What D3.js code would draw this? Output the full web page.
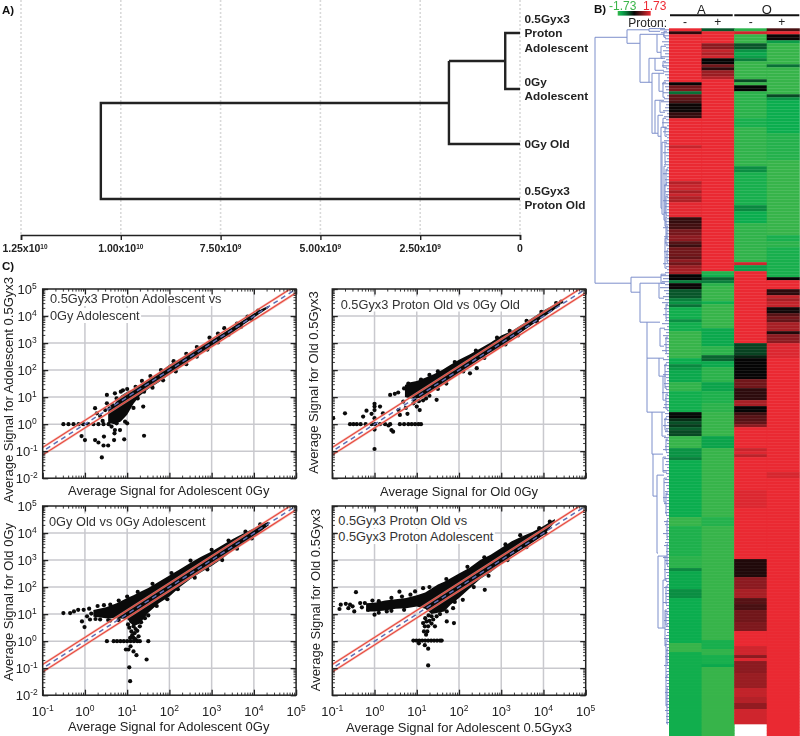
<!DOCTYPE html>
<html><head><meta charset="utf-8">
<script src="https://cdn.jsdelivr.net/npm/d3@7/dist/d3.min.js"></script>
<style>
html,body{margin:0;padding:0;background:#fff}
svg{display:block;filter:blur(.45px)}
text{font-family:"Liberation Sans",Arial,sans-serif}
</style></head><body><svg id="c" width="800" height="736"></svg>
<script>
// ---------- Panel A: sample dendrogram ----------
const treeTicks = [1.25e10, 1e10, 7.5e9, 5e9, 2.5e9, 0];
const treeTickLabels = [["1.25x10","10"],["1.00x10","10"],["7.50x10","9"],["5.00x10","9"],["2.50x10","9"],["0",""]];
const treeLeaves = [
 {lines:["0.5Gyx3","Proton","Adolescent"], row:33},
 {lines:["0Gy","Adolescent"], row:89},
 {lines:["0Gy Old"], row:144},
 {lines:["0.5Gyx3","Proton Old"], row:199}];
const treeHeights = {ab:3.7e8, abc:1.78e9, root:1.05e10};

// ---------- Panel B: heatmap, run-length [rows, value] ----------
const heatSamples = ["A-","A+","O-","O+"];
const heatSigns = ["-","+","-","+"];
const heatA0 = [[1,1.7],[1,.3],[16,1.7],[1,0],[1,.8],[1,.9],[1,-.8],[2,.7],[1,.5],[3,.05],[2,.35],[9,1.7],[1,1.45],[11,1.7],[1,1.3],[1,1.45],[1,1.5],[1,1.2],[1,1.45],[2,1.25],[5,1.65],[2,.35],[2,.45],[2,.85],[2,1],[1,.6],[1,.4],[3,.8],[1,.7],[1,1],[1,.8],[1,1.1],[2,1.2],
 [2,0],[1,-.9],[2,.05],[3,-.6],[1,-.9],[1,-1.1],[1,-.8],[4,-1.4],[1,-1.05],[3,-1.4],[9,-1.7],[2,-1.35],[1,-1],[1,-1.15],[4,-1.3],[3,-1.65],[7,-1.4],[1,-.05],[1,0],[1,-.3],[1,-.55],[1,-.4],[1,-.65],[2,-.5],[4,-1.7],[3,-1.1],[1,-.9],[19,-1.35],[3,-1.7],[10,-1.5],[4,-1.6],[1,-1],[6,-1.3],[3,-1.05],[15,-1.35],[3,-1.7],[28,-1.4]];
const heatA1 = [[1,-.6],[4,1.7],[2,1],[1,1.4],[1,1.25],[1,1.5],[2,0],[1,.8],[1,.3],[2,1.1],[1,1.3],[64,1.7],
 [1,-1.55],[1,-1.4],[1,-.7],[1,-.9],[1,-1.6],[5,-1.7],[1,-1.4],[8,-1.7],[6,-1.3],[3,-1.6],[2,-.7],[2,-1.3],[5,-1.6],[3,-1.25],[4,-1.5],[3,-1.6],[8,-1.7],[4,-1.25],[23,-1.7],[3,-1.55],[38,-1.7],[3,-1.45],[2,-1.65],[3,-1.45],[1,-1.3],[29,-1.7]];
const heatO0 = [[1,-1.6],[1,1.5],[3,-1.7],[2,-.6],[1,-1.1],[1,-1.3],[1,-1.2],[1,-.9],[6,-1.7],[1,-.5],[1,-1.7],[2,0],[9,-1.6],[3,-1.45],[13,-1.65],[2,-1.05],[11,-1.45],[2,-1],[4,-1.35],[13,-1.65],
 [1,1.5],[2,-1.2],[24,1.7],[4,-.45],[1,-.2],[5,0],[2,.02],[3,.8],[4,.3],[2,1.2],[2,0],[1,.4],[2,.6],[1,.7],[1,1],[7,1.7],[1,1.45],[1,1.6],[1,1.35],[11,1.7],[6,1.6],[17,1.7],[6,.2],[4,1],[3,1.2],[2,.6],[2,.5],[4,.8],[3,.9],[5,1.7],[3,1.5],[1,1],[1,1.6],[4,1],[5,1.1],[3,1.4],[2,1.3],[2,1.05],[5,1.5]];
const heatO1 = [[1,.5],[1,1.7],[2,.05],[1,-1.2],[7,-1.7],[1,-.8],[9,-1.7],[1,-.5],[1,-1.1],[11,-1.35],[9,-1.55],[25,-1.7],[2,-1.45],[2,-1.6],[10,-1.45],
 [1,0],[3,1.7],[2,.3],[1,1.4],[1,1.2],[2,1.4],[2,.1],[1,.6],[1,.8],[1,.7],[3,1.2],[1,.2],[3,1],[5,1.6],[38,1.7],[2,1.55],[86,1.7]];
const heatValues = [heatA0,heatA1,heatO0,heatO1];
const heatRange = [-1.73,1.73];

// dendrogram clades: [distance, row top, row bottom, top child distance, bottom child distance]
const clades = [
 [74,3,85,42,38],[42,.5,5,20,29],[20,.1,1,4,9],[29,2,18,12,20],[12,2,8,5,8],[8,6,10,3,4],[5,1,3,2,3],
 [20,10,18,14,17],[14,10,14,6,5],[6,11,13,3,2],[17,15,35,10,14],[10,15,21,5,6],[6,18,23,3,4],[14,24,35,9,11],[9,24,28,5,4],[11,29,36,6,8],[6,30,33,3,3],
 [8,33,60,4,7],[4,33,36,2,2],[7,38,62,4,5],[4,38,45,2,3],[5,46,64,3,4],[3,47,52,1,2],[4,52,66,2,3],[3,56,62,1,2],[3,63,72,2,1],[2,66,70,1,1],[4,70,80,2,2],[2,74,78,1,1],
 [38,83,88,8,29],[8,82,85,3,4],[29,85,98,10,22],[10,85,90,4,5],[22,98,110,9,22],[9,100,106,4,5],[22,110,128,10,17],[10,110,116,5,6],[6,116,124,3,3],[17,128,142,7,16],[7,128,136,4,3],[4,130,134,2,1],
 [16,142,156,6,12],[6,143,148,3,2],[12,149,175,5,11],[5,150,158,2,3],[3,155,162,1,2],[11,176,200,4,6],[4,176,184,2,2],[6,184,200,3,4],[3,186,192,1,2],[4,194,206,2,3],[3,204,216,1,2],[2,207,212,1,1],[3,216,226,1,2],[2,220,232,1,1],
 [3,92,97,1,2],[3,103,108,1,2],[4,112,120,2,2],[3,122,127,1,1],[3,137,141,1,2],[2,164,170,1,1],[2,172,179,1,1],[3,195,199,1,1]];
const leafDepth = [9,8,6,4,7,5,3,6,4,8,3,5,7,3,6,4,2,5,7,4,3,6,2,5,8,3,4,6,2,5,3,7,2,4,6,3,2,5,3,4,2,6,3,2,4,5,2,3,6,2,4,3,5,2,4,3,2,6,3,4,2,5,3,2,4,3,6,2,3,5,2,4,3,2,5,3,4,2,6,3,2,4,
 8,6,7,4,9,5,3,6,4,7,3,5,2,6,3,4,7,2,5,3,6,4,2,5,3,7,4,2,6,3,5,2,4,6,3,2,5,4,3,7,2,4,3,5,6,2,4,3,5,2,6,3,4,2,5,3,2,4,6,3,2,5,3,4,2,6,3,2,4,5,3,2,4,3,6,2,5,3,2,4,3,2,5,4,2,3,6,2,3,4,5,2,3,2,6,4,3,2,5,3,2,4,3,2,5,2,4,3,2,6,3,2,4,2,3,5,2,3,4,2,3,5,2,4,2,3,2,4,3,2,5,2,3,2,4,3,2,3,2,4,2,3,2,3,2,4,2,3,2,3];

// ---------- Panel C: scatter. log10 values. band = [log x, log y low, log y high] for the solid cloud ----------
const logTicks = [-1,0,1,2,3,4,5];
const logTicksY = [-2,-1,0,1,2,3,4,5];
const bandC1 = [[.55,.05,.5],[.7,0,.75],[.85,.1,1.05],[1,.35,1.2],[1.15,.75,1.3],[1.3,1.05,1.45],[1.5,1.3,1.65],[1.75,1.55,1.9],[2,1.83,2.2],[2.25,2.1,2.42],[2.5,2.38,2.65],[2.75,2.62,2.9],[3,2.86,3.12],[3.25,3.15,3.35],[3.5,3.38,3.6],[3.75,3.68,3.85],[4,3.94,4.1],[4.2,4.15,4.27],[4.35,4.31,4.38]];
const dotsC1 = [[-.51,0],[-.39,0],[-.27,0],[-.15,0],[-.04,0],[.08,0],[.2,0],[.32,0],[.44,0],[.56,0],[-.08,-.44],[0,-.59],[.24,-.59],[.32,-.68],[.44,-.79],[.55,-.79],[.4,-1.23],[.45,-.46],[.71,-.22],[.7,-.34],[.69,-.59],[.93,-.56],[1.4,-.43],[.95,.09],[1,.03],[.52,1.08],[.24,.59],[.28,.4],[.48,.52],[.52,.77],[.71,1.14],[1.38,.65],[.83,-.22],[.75,.03],[.63,-.09],[.36,.3],[.42,.12],
 [.85,1.2],[1,1.3],[1.2,1.38],[1.35,1.6],[1.55,1.78],[1.8,2],[2.1,2.33],[2.4,2.6],[2.65,2.85],[2.95,3.2],[3.15,3.35],[3.3,3.55],[3.6,3.72],[3.85,3.98],[4.1,4.2],[1.25,.95],[1.4,1.2],[1.6,1.35],[1.85,1.62],[2.15,1.95],[2.4,2.22],[2.65,2.5],[2.9,2.76],[3.15,3.02],[3.4,3.3],[3.7,3.6],[3.95,3.88],[1.05,.9],[1.15,.6],[.9,1.25],[.75,.95],[.65,.7],[.58,.58]];
const bandC2 = [[.72,1,1.45],[.85,.95,1.55],[1,.95,1.6],[1.2,1,1.72],[1.4,1.25,1.85],[1.6,1.45,2],[1.8,1.65,2.2],[2,1.88,2.38],[2.25,2.13,2.58],[2.5,2.4,2.8],[2.75,2.65,3.02],[3,2.85,3.28],[3.25,3.15,3.45],[3.5,3.43,3.7],[3.75,3.7,3.95],[4,3.96,4.2],[4.2,4.17,4.38],[4.4,4.42,4.56]];
const dotsC2 = [[-.58,0],[-.5,0],[-.42,0],[-.33,0],[-.21,0],[-.07,0],[.01,0],[.13,0],[.25,0],[.37,0],[.6,0],[.7,0],[.8,0],[.88,0],[.96,0],[1.04,0],[1.1,0],[-.98,.22],[-.7,.4],[-.27,.28],[-.19,.5],[-.07,.38],[0,.75],[0,.65],[0,.52],[0,.22],[0,-.2],[0,-.92],[.13,.65],[.2,.4],[.37,1.08],[.48,1.12],[.56,1.17],[.57,.52],[.78,.38],[.4,-.22],[.44,-.28],[.33,-.05],[.6,.34],[.74,.6],[.68,.83],[.92,.77],[1,.65],[1.07,.52],[1.47,.9],[2.26,1.88],[2.42,2.07],
 [.7,1.32],[.8,1.5],[1.1,1.65],[1.3,1.82],[1.5,1.95],[1.9,2.3],[2.4,2.72],[2.9,3.2],[3.2,3.45],[3.6,3.82],[3.95,4.15],[4.3,4.48],[1.15,.88],[1.3,1.05],[1.5,1.3],[1.7,1.5],[2.1,1.95],[2.6,2.45],[3.1,2.95],[3.4,3.28],[3.85,3.78],[1.05,.85],[.95,.88],[1.22,.95],[4.42,4.53]];
const bandC3 = [[.2,.9,1.15],[.5,.85,1.25],[.75,.85,1.4],[1,.82,1.6],[1.15,.55,1.7],[1.3,.65,1.82],[1.5,1.05,1.97],[1.75,1.4,2.2],[2,1.65,2.43],[2.25,2,2.66],[2.5,2.3,2.9],[2.75,2.55,3.12],[3,2.78,3.32],[3.25,3.05,3.55],[3.5,3.35,3.78],[3.75,3.62,3.98],[4,3.85,4.18],[4.25,4.17,4.36],[4.35,4.28,4.42]];
const dotsC3 = [[.52,0],[.68,0],[.76,0],[.84,0],[.92,0],[1,0],[1.08,0],[1.16,0],[1.24,0],[1.3,0],[1.5,0],[-.51,1.04],[-.35,1.04],[-.26,1.1],[-.16,1.16],[-.07,.73],[-.01,.52],[-.03,1.16],[.12,.8],[.36,.8],[.6,.76],[1.03,-.31],[.97,-.31],[1.08,-.19],[1.15,-.38],[1.22,-.52],[1.46,-.68],[1.05,-.97],[1.07,-1.48],[1.1,.73],[1.15,.55],[1.1,.36],[1.18,.3],[1.3,.55],[1.07,.12],[1.27,.18],[1.15,.12],[1.2,.45],[1.24,.38],[1.12,.22],[1.2,.08],[1.33,.7],[1.42,.85],[1.5,.95],[1.05,.5],[1.02,.62],
 [.05,.92],[.1,1.2],[.3,1.3],[.45,1.33],[.6,1.35],[.8,1.5],[1,1.65],[1.25,1.82],[1.6,2.12],[2.05,2.52],[2.5,2.98],[3,3.38],[3.4,3.72],[3.8,4.05],[4.15,4.32],[1.7,1.3],[1.95,1.55],[2.2,1.92],[2.6,2.35],[2.9,2.65],[3.25,3],[3.6,3.42],[3.95,3.8],[.25,.82],[.55,.78],[.8,.78],[.15,1.02]];
const bandC4 = [[-.2,1.1,1.4],[0,1.1,1.42],[.25,1.13,1.5],[.5,1.2,1.55],[.75,1.22,1.6],[1,1.28,1.7],[1.2,1.2,1.8],[1.35,1,1.95],[1.5,1.05,2.1],[1.65,1.1,2.2],[1.8,1.35,2.33],[2,1.6,2.5],[2.25,1.95,2.72],[2.5,2.3,3],[2.75,2.55,3.2],[3,2.85,3.45],[3.25,3.15,3.7],[3.5,3.4,3.88],[3.75,3.65,4.05],[4,3.92,4.26],[4.27,4.4,4.52]];
const dotsC4 = [[.92,.02],[.99,.02],[1.06,.02],[1.13,.02],[1.2,.02],[1.27,.02],[1.34,.02],[1.41,.02],[1.48,.02],[1.55,.02],[1.59,.02],[1.19,-.15],[1.27,-.28],[1.05,-.08],[1.27,-.9],[1.15,.67],[1.23,.73],[1.19,.55],[1.27,.55],[1.17,.36],[1.25,.36],[1.22,.24],[1.43,.55],[1.39,.8],[1.35,.92],[1.47,.92],[1.71,.73],[1.88,.67],[1.86,1.22],[1.71,1.1],[1.55,1],[2.09,1.53],[2.61,1.9],[1.3,.75],[1.35,.65],[1.2,.85],[1.28,.95],
 [-.83,1.19],[-.8,1.35],[-.68,1.38],[-.62,1.22],[-.58,1.35],[-.52,1.29],[-.48,1.1],[-.44,1.81],[-.34,1.41],[-.23,1.41],[-.15,1.16],[0,.98],[.29,1.1],[.59,1.83],[.96,1.84],[1.15,1.96],[-.05,1.5],[.1,1.48],[.4,1.6],[.65,1.65],[.85,1.72],[1.3,2],[1.7,2.3],[2.2,2.75],[2.6,3.1],[3.1,3.58],[3.45,3.92],[3.9,4.18],[4.15,4.42],[.1,1.05],[.4,1.12],[.7,1.16],[1.9,1.45],[2.35,2],[2.7,2.42],[3.15,3],[3.6,3.48],[4.05,4],[-.3,1.25]];

const panels = [
 {band:bandC1,dots:dotsC1,l:42.7,t:289,xTitle:"Average Signal for Adolescent 0Gy",yTitle:"Average Signal for Adolescent 0.5Gyx3",xt:[168.7,495],yt:[13,390],notes:[["0.5Gyx3 Proton Adolescent vs",50,303],["0Gy Adolescent",50,320]],xl:false,yl:true},
 {band:bandC2,dots:dotsC2,l:332.3,t:289,xTitle:"Average Signal for Old 0Gy",yTitle:"Average Signal for Old 0.5Gyx3",xt:[459,496],yt:[317.5,382.5],notes:[["0.5Gyx3 Proton Old vs 0Gy Old",340.7,308.5]],xl:false,yl:false},
 {band:bandC3,dots:dotsC3,l:42.7,t:506,xTitle:"Average Signal for Adolescent 0Gy",yTitle:"Average Signal for Old 0Gy",xt:[168.7,731],yt:[13,602],notes:[["0Gy Old vs 0Gy Adolescent",49,525.5]],xl:true,yl:true},
 {band:bandC4,dots:dotsC4,l:332.3,t:506,xTitle:"Average Signal for Adolescent 0.5Gyx3",yTitle:"Average Signal for Old 0.5Gyx3",xt:[459,732],yt:[320,600],notes:[["0.5Gyx3 Proton Old vs",338.3,525],["0.5Gyx3 Proton Adolescent",338.3,541]],xl:true,yl:false}];

const svg = d3.select("#c");
const sup = (sel,base,s,size,ss,dy)=>{ sel.text(null); sel.append("tspan").text(base);
  if(s) sel.append("tspan").attr("dy",-dy).attr("font-size",ss).text(s); };

// panel letters
[["A)",2,14],["B)",594,13],["C)",2,270]].forEach(([t,x,y])=>svg.append("text").attr("x",x).attr("y",y).attr("font-weight","bold").attr("font-size",11.5).attr("fill","#111").text(t));

// ===== Panel A =====
(function(){
 const x = d3.scaleLinear().domain([1.25e10,0]).range([21,520]);
 const g = svg.append("g");
 g.selectAll("line.g").data(treeTicks).join("line").attr("x1",d=>x(d)).attr("x2",d=>x(d)).attr("y1",0).attr("y2",234)
  .attr("stroke","#d9d9d9").attr("stroke-width",1.6).attr("stroke-dasharray","2 2");
 const ax = g.append("g").attr("transform","translate(0,235)").call(d3.axisBottom(x).tickValues(treeTicks).tickSize(5).tickFormat(""));
 ax.select(".domain").attr("stroke","#222").attr("stroke-width",1.6);
 ax.selectAll(".tick line").attr("stroke","#222").attr("stroke-width",1.4);
 treeTicks.forEach((v,i)=>{
  const t=g.append("text").attr("x",i==0?25:x(v)).attr("y",252).attr("text-anchor","middle").attr("font-size",10.5).attr("font-weight","bold").attr("fill","#222");
  sup(t,treeTickLabels[i][0],treeTickLabels[i][1],6.5,6.5,3);
 });
 const [a,b,c,d]=treeLeaves.map(l=>l.row);
 const H=treeHeights, mid1=61, mid2=103;
 const segs=[
  [[0,a],[H.ab,a],[H.ab,b],[0,b]],
  [[H.ab,mid1],[H.abc,mid1]],
  [[0,c],[H.abc,c],[H.abc,mid1]],
  [[H.abc,mid2],[H.root,mid2],[H.root,d],[0,d]]];
 const line=d3.line().x(p=>x(p[0])).y(p=>p[1]);
 g.selectAll("path.t").data(segs).join("path").attr("d",line).attr("fill","none").attr("stroke","#222").attr("stroke-width",2.4).attr("stroke-linejoin","miter");
 const tops=[23,86,147.5,195];
 treeLeaves.forEach((l,i)=>l.lines.forEach((s,j)=>g.append("text").attr("x",524.5).attr("y",tops[i]+j*14.4).attr("font-size",11.8).attr("font-weight","bold").attr("fill","#222").text(s)));
})();

// ===== Panel B =====
(function(){
 const NR=236;
 const rows=heatValues.map(runs=>{const a=[];runs.forEach(([n,v])=>{for(let i=0;i<n;i++)a.push(v)});return a.slice(0,NR)});
 const col=d3.scaleBand().domain(heatSamples).range([669,799.3]);
 const row=d3.scaleBand().domain(d3.range(NR)).range([28.3,736]);
 const color=d3.scaleLinear().domain([-1.73,-1.35,-.9,0,1.73]).range(["#3bb54a","#0bad4e","#0a7f3c","#050505","#ee2a33"]).clamp(true);
 const g=svg.append("g");
 heatSamples.forEach((s,i)=>{
  g.append("g").selectAll("rect").data(rows[i]).join("rect").attr("x",col(s)).attr("width",col.bandwidth()+.5)
   .attr("y",(d,r)=>row(r)).attr("height",row.bandwidth()+.3).attr("fill",d=>color(d));
 });
 const dx=d=>669-d, ry=r=>row(0)+r*row.step();
 const lg=svg.append("g").attr("fill","none");
 lg.append("g").selectAll("line").data(leafDepth).join("line").attr("x1",669).attr("x2",d=>dx(d)).attr("y1",(d,i)=>ry(i+.5)).attr("y2",(d,i)=>ry(i+.5)).attr("stroke","#3f55a8").attr("stroke-width",.7);
 const path=c=>{const [d,a,b,da,db]=c;return `M${dx(da)},${ry(a)}L${dx(d)},${ry(a)}L${dx(d)},${ry(b)}L${dx(db)},${ry(b)}`};
 lg.append("g").selectAll("path").data(clades).join("path").attr("d",path).attr("stroke","#7d8fcb").attr("stroke-width",1);
 // legend
 const defs=svg.append("defs"), gr=defs.append("linearGradient").attr("id","hg");
 [-1.73,-1.35,-.9,0,1.73].forEach((v,i)=>gr.append("stop").attr("offset",(v+1.73)/3.46).attr("stop-color",color(v)));
 const lgx=d3.scaleLinear().domain(heatRange).range([617.7,650.7]);
 svg.append("rect").attr("x",lgx(-1.73)).attr("y",11).attr("width",lgx(1.73)-lgx(-1.73)).attr("height",4.6).attr("fill","url(#hg)");
 svg.append("text").attr("x",609).attr("y",10).attr("font-size",12).attr("fill","#3bb54a").text(heatRange[0]);
 svg.append("text").attr("x",643).attr("y",10).attr("font-size",12).attr("fill","#ee2a33").text(heatRange[1]);
 [["A",670,732.7],["O",734.3,799.3]].forEach(([t,a,b])=>{
  svg.append("line").attr("x1",a).attr("x2",b).attr("y1",15.3).attr("y2",15.3).attr("stroke","#111").attr("stroke-width",2);
  svg.append("text").attr("x",(a+b)/2).attr("y",14).attr("text-anchor","middle").attr("font-size",13).attr("fill","#222").text(t);
 });
 svg.append("text").attr("x",667).attr("y",26.5).attr("text-anchor","end").attr("font-size",12).attr("fill","#222").text("Proton:");
 heatSamples.forEach((s,i)=>svg.append("text").attr("x",[685,717.7,750.7,781.7][i]).attr("y",26).attr("text-anchor","middle").attr("font-size",12).attr("fill","#222").text(heatSigns[i]));
})();

// ===== Panel C =====
panels.forEach((p,pi)=>{
 const W=253.4,H=189.2;
 const x=d3.scaleLog().domain([.1,1e5]).range([p.l,p.l+W]);
 const y=d3.scaleLog().domain([.01,1e5]).range([p.t+H,p.t]);
 const X=v=>x(10**v), Y=v=>y(10**v);
 const g=svg.append("g");
 const cid="clip"+pi;
 svg.select("defs").append("clipPath").attr("id",cid).append("rect").attr("x",p.l).attr("y",p.t).attr("width",W).attr("height",H);
 // grid
 g.selectAll("line.gx").data(logTicks.slice(1,-1)).join("line").attr("x1",X).attr("x2",X).attr("y1",p.t).attr("y2",p.t+H).attr("stroke","#c9c9ce").attr("stroke-width",1.5);
 g.selectAll("line.gy").data(logTicksY.slice(1,-1)).join("line").attr("y1",Y).attr("y2",Y).attr("x1",p.l).attr("x2",p.l+W).attr("stroke","#c9c9ce").attr("stroke-width",1.5);
 // notes behind marks, with white background
 p.notes.forEach(([t,nx,ny])=>{
  const bg=g.append("rect").attr("fill","#fff");
  const tx=g.append("text").attr("x",nx).attr("y",ny).attr("font-size",12.8).attr("fill","#333").text(t);
  const b=tx.node().getBBox(); bg.attr("x",b.x-1).attr("y",b.y).attr("width",b.width+2).attr("height",b.height);
 });
 const m=g.append("g").attr("clip-path",`url(#${cid})`);
 // cloud
 m.append("path").datum(p.band).attr("d",d3.area().x(d=>X(d[0])).y0(d=>Y(d[1])).y1(d=>Y(d[2]))).attr("fill","#0a0a0a");
 m.append("g").selectAll("circle").data(p.dots).join("circle").attr("cx",d=>X(d[0])).attr("cy",d=>Y(d[1])).attr("r",2.1).attr("fill","#0a0a0a");
 // identity and fold lines
 const dl=off=>[[-1.1,-1.1+off],[5.1,5.1+off]];
 const ln=d3.line().x(d=>X(d[0])).y(d=>Y(d[1]));
 [.14,-.14].forEach(o=>m.append("path").attr("d",ln(dl(o))).attr("fill","none").attr("stroke","#f0a59a").attr("stroke-width",2.4).attr("opacity",.7));
 [.14,-.14].forEach(o=>m.append("path").attr("d",ln(dl(o))).attr("fill","none").attr("stroke","#e8453c").attr("stroke-width",1.1));
 m.append("path").attr("d",ln(dl(0))).attr("fill","none").attr("stroke","#5b6fb5").attr("stroke-width",1.5).attr("stroke-dasharray","5 4");
 // frame and ticks
 const minors=[];logTicks.slice(0,-1).forEach(e=>d3.range(2,10).forEach(k=>minors.push(k*10**e)));
 const minorsY=[];logTicksY.slice(0,-1).forEach(e=>d3.range(2,10).forEach(k=>minorsY.push(k*10**e)));
 const majX=logTicks.map(e=>10**e), majY=logTicksY.map(e=>10**e);
 const axes=[
  [d3.axisBottom(x),`translate(0,${p.t+H})`,majX,minors],
  [d3.axisTop(x),`translate(0,${p.t})`,majX,minors],
  [d3.axisLeft(y),`translate(${p.l},0)`,majY,minorsY],
  [d3.axisRight(y),`translate(${p.l+W},0)`,majY,minorsY]];
 axes.forEach(([a,tr,mj,mn])=>{
  [[mj,-5.5,1.3],[mn,-2.6,.9]].forEach(([vals,sz,sw])=>{
   const s=g.append("g").attr("transform",tr).call(a.tickValues(vals).tickSize(sz).tickFormat(""));
   s.select(".domain").remove(); s.selectAll(".tick line").attr("stroke","#222").attr("stroke-width",sw);
  });
 });
 g.append("rect").attr("x",p.l).attr("y",p.t).attr("width",W).attr("height",H).attr("fill","none").attr("stroke","#222").attr("stroke-width",1.5);
 // labels
 if(p.yl) logTicksY.forEach(e=>{
  const t=g.append("text").attr("x",p.l-(String(e).length>1?5:6)).attr("y",Y(e)+4.6).attr("text-anchor","end").attr("font-size",13).attr("fill","#222");
  sup(t,"10",String(e),13,8.5,5);
 });
 if(p.xl) logTicks.forEach(e=>{
  const t=g.append("text").attr("x",X(e)).attr("y",p.t+H+20.5).attr("text-anchor","middle").attr("font-size",13).attr("fill","#222");
  sup(t,"10",String(e),13,8.5,5);
 });
 g.append("text").attr("x",p.xt[0]).attr("y",p.xt[1]).attr("text-anchor","middle").attr("font-size",13).attr("fill","#222").text(p.xTitle);
 g.append("text").attr("transform",`translate(${p.yt[0]},${p.yt[1]}) rotate(-90)`).attr("text-anchor","middle").attr("font-size",13).attr("fill","#222").text(p.yTitle);
});
</script></body></html>
